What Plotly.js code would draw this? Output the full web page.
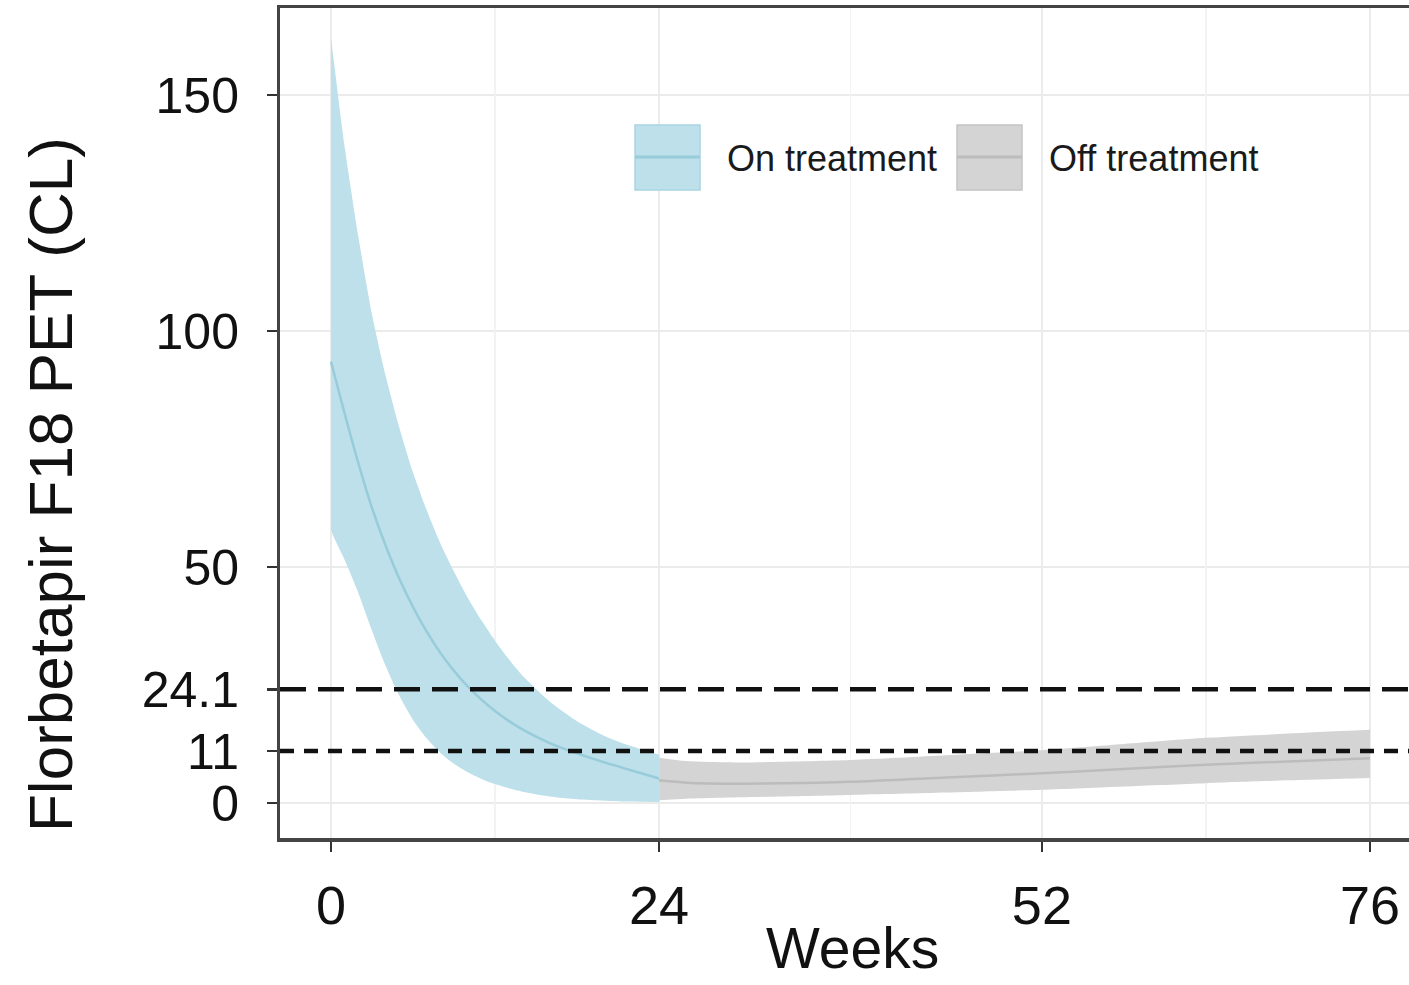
<!DOCTYPE html>
<html>
<head>
<meta charset="utf-8">
<script src="https://cdn.plot.ly/plotly-3.0.1.min.js"></script>
<style>html,body{margin:0;padding:0;background:#fff;}#chart{width:1409px;height:985px;}</style>
</head>
<body>
<div id="chart"></div>
<script>
// On treatment (weeks 0-24)
const onWeeks = [0, 0.3, 1, 2, 3, 4, 5, 6, 7, 8, 9, 10, 11, 12, 13, 14, 16, 18, 20, 22, 24];
const onMean  = [93.5, 90.2, 82.5, 72, 62.5, 54.5, 47.5, 41.5, 36.3, 31.8, 28, 24.7, 21.9, 19.5, 17.4, 15.6, 12.7, 10.5, 8.6, 6.9, 5.2];
const onUpper = [162, 155, 139, 120, 103.5, 90.5, 79.5, 70, 62, 55, 49, 43.5, 38.7, 34.4, 30.5, 27, 21.5, 17.3, 14.2, 12, 10.2];
const onLower = [57.8, 55.7, 51.5, 44.5, 36.5, 29, 22.7, 17.6, 13.7, 10.6, 8.3, 6.5, 5.1, 4, 3.1, 2.4, 1.4, 0.8, 0.5, 0.3, 0.2];

// Off treatment (weeks 24-76)
const offWeeks = [24, 26, 30, 38, 45, 52, 58, 64, 70, 76];
const offMean  = [4.8, 4.3, 4.1, 4.5, 5.4, 6.3, 7.2, 8.1, 8.8, 9.5];
const offUpper = [9.6, 8.9, 8.6, 9.1, 10.1, 11.2, 12.5, 13.8, 14.7, 15.5];
const offLower = [0.6, 0.9, 1.2, 1.7, 2.2, 2.8, 3.5, 4.2, 4.8, 5.3];

// Reference thresholds
const thresholds = [24.1, 11];
const thresholdDash = ['26px,12px', '14px,10px'];

// Axis ticks
const xTicks = [0, 24, 52, 76];
const xMinor = [12, 38, 64];
const yTicks = [0, 11, 24.1, 50, 100, 150];
const yTickText = ['0', '11', '24.1', '50', '100', '150'];
const yGrid = [0, 50, 100, 150];

const legendNames = ['On treatment', 'Off treatment'];
const xTitle = 'Weeks';
const yTitle = 'Florbetapir F18 PET (CL)';

const blueFill = '#bde0ea', blueLine = '#98ccda';
const greyFill = '#d4d4d4', greyLine = '#bcbcbc';

function band(x, lo, hi, mid, fill, line, name) {
  const ls = {shape: 'spline', smoothing: 0.7};
  return [
    {x: x, y: lo, mode: 'lines', line: Object.assign({width: 0, color: fill}, ls), showlegend: false, hoverinfo: 'skip'},
    {x: x, y: hi, mode: 'lines', fill: 'tonexty', fillcolor: fill, line: Object.assign({width: 0, color: fill}, ls), showlegend: false, hoverinfo: 'skip'},
    {x: x, y: mid, mode: 'lines', line: Object.assign({width: 2.5, color: line}, ls), name: name, showlegend: false}
  ];
}

const traces = [].concat(
  band(onWeeks, onLower, onUpper, onMean, blueFill, blueLine, legendNames[0]),
  band(offWeeks, offLower, offUpper, offMean, greyFill, greyLine, legendNames[1])
);

// Plot frame in pixels: left 280, top 8, right 1409, bottom 838
const L = 280, T = 8, R = 1409, B = 838;
const px = p => (p - L) / (R - L);
const py = p => (B - p) / (B - T);

const shapes = [];
yGrid.forEach(v => shapes.push({type: 'line', xref: 'paper', yref: 'y', x0: 0, x1: 1, y0: v, y1: v,
  line: {color: '#ebebeb', width: 2}, layer: 'below'}));
thresholds.forEach((v, i) => {
  shapes.push({type: 'line', xref: 'paper', yref: 'y', x0: 0, x1: 1, y0: v, y1: v,
    line: {color: '#111', width: 4.5, dash: thresholdDash[i]}, layer: 'above'});
});

// legend keys
const keys = [
  {x0: 635, x1: 700, fill: blueFill, line: blueLine, border: '#a9d5e2', text: 725},
  {x0: 957, x1: 1022, fill: greyFill, line: greyLine, border: '#c4c4c4', text: 1047}
];
const fontFam = 'Liberation Sans, Arial, sans-serif';
const annotations = [];
keys.forEach((k, i) => {
  shapes.push({type: 'rect', xref: 'paper', yref: 'paper', x0: px(k.x0), x1: px(k.x1), y0: py(190), y1: py(125),
    fillcolor: k.fill, line: {color: k.border, width: 1.5}, layer: 'above'});
  shapes.push({type: 'line', xref: 'paper', yref: 'paper', x0: px(k.x0), x1: px(k.x1), y0: py(157), y1: py(157),
    line: {color: k.line, width: 3}, layer: 'above'});
  annotations.push({xref: 'paper', yref: 'paper', x: px(k.text), y: py(158), xanchor: 'left', yanchor: 'middle',
    text: legendNames[i], showarrow: false, font: {size: 36, color: '#1a1a1a', family: fontFam}});
});
annotations.push({xref: 'paper', yref: 'paper', x: px(50), y: py(485), xanchor: 'center', yanchor: 'middle',
  text: yTitle, textangle: -90, showarrow: false, font: {size: 62, color: '#111', family: fontFam}});
annotations.push({xref: 'paper', yref: 'paper', x: px(852), y: py(948), xanchor: 'center', yanchor: 'middle',
  text: xTitle, showarrow: false, font: {size: 57, color: '#111', family: fontFam}});

const pxPerWeek = (1370 - 331) / 76;
const pxPerUnit = (803 - 95) / 150;

const layout = {
  width: 1409, height: 985,
  margin: {l: L, r: 0, t: T, b: 985 - B, pad: 0},
  paper_bgcolor: '#ffffff', plot_bgcolor: '#ffffff',
  showlegend: false,
  font: {family: fontFam, color: '#111'},
  xaxis: {
    range: [(L - 331) / pxPerWeek, (R - 331) / pxPerWeek],
    tickvals: xTicks, ticktext: xTicks.map(String),
    tickfont: {size: 54, color: '#111'},
    ticks: 'outside', ticklen: 10, tickwidth: 2.5, tickcolor: '#333',
    ticklabelstandoff: 8,
    showgrid: true, gridcolor: '#ebebeb', gridwidth: 2,
    minor: {tickvals: xMinor, showgrid: true, gridcolor: '#f3f3f3', gridwidth: 1.5, ticks: ''},
    zeroline: false,
    showline: true, linecolor: '#444', linewidth: 3.5, mirror: true,
    fixedrange: true
  },
  yaxis: {
    range: [-(B - 803) / pxPerUnit, (803 - T) / pxPerUnit],
    tickvals: yTicks, ticktext: yTickText,
    tickfont: {size: 50, color: '#111'},
    ticks: 'outside', ticklen: 10, tickwidth: 2.5, tickcolor: '#333',
    ticklabelstandoff: 18,
    showgrid: false,
    zeroline: false,
    showline: true, linecolor: '#444', linewidth: 3, mirror: false,
    fixedrange: true
  },
  shapes: shapes,
  annotations: annotations
};

Plotly.newPlot('chart', traces, layout, {displayModeBar: false, staticPlot: true});
</script>
</body>
</html>
